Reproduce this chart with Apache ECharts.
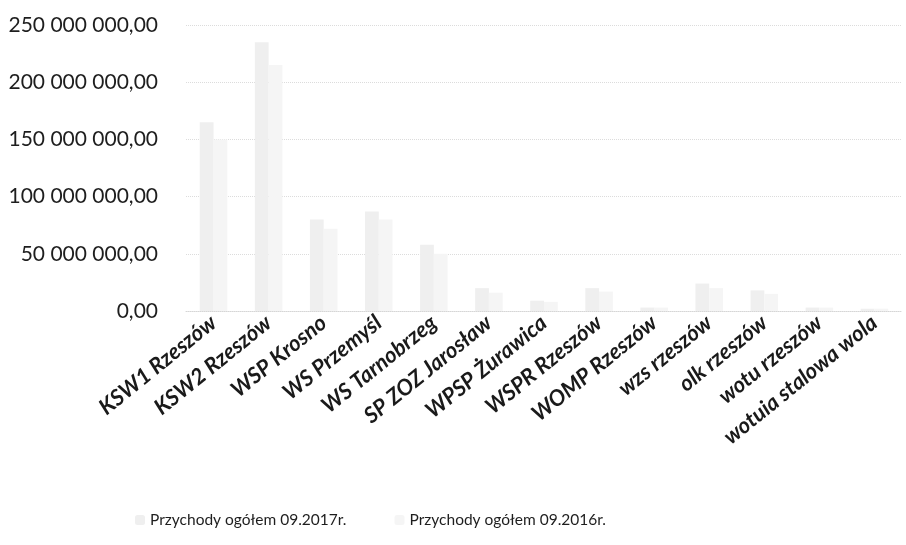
<!DOCTYPE html>
<html>
<head>
<meta charset="utf-8">
<script src="https://cdn.jsdelivr.net/npm/echarts@6/dist/echarts.min.js"></script>
<style>
html,body{margin:0;padding:0;background:#fff;}
#chart{width:906px;height:545px;}
</style>
</head>
<body>
<div id="chart"></div>
<script>
const categories = ["KSW1 Rzeszów","KSW2 Rzeszów","WSP Krosno","WS Przemyśl","WS Tarnobrzeg","SP ZOZ Jarosław","WPSP Żurawica","WSPR Rzeszów","WOMP Rzeszów","wzs rzeszów","olk rzeszów","wotu rzeszów","wotuia stalowa wola"];
const revenue2017 = [165000000, 235000000, 80000000, 87000000, 58000000, 20000000, 9000000, 20000000, 3000000, 24000000, 18000000, 3000000, 2000000];
const revenue2016 = [150000000, 215000000, 72000000, 80000000, 50000000, 16000000, 8000000, 17000000, 3000000, 20000000, 15000000, 3000000, 2000000];
const seriesNames = ["Przychody ogółem 09.2017r.", "Przychody ogółem 09.2016r."];
const yTicks = [0, 50000000, 100000000, 150000000, 200000000, 250000000];

function fmt(v){
  const s = Math.round(v).toString().replace(/\B(?=(\d{3})+(?!\d))/g, " ");
  return s + ",00";
}

const chart = echarts.init(document.getElementById('chart'), null, {renderer:'canvas'});
chart.setOption({
  backgroundColor: '#ffffff',
  animation: false,
  grid: {left: 186, right: 4, top: 25, bottom: 234, containLabel: false},
  legend: {
    top: 507,
    left: 130,
    itemGap: 48,
    itemWidth: 10,
    itemHeight: 10,
    textStyle: {fontFamily: 'Lato', fontSize: 15.5, color: '#1e1e1e'},
    data: seriesNames
  },
  xAxis: {
    type: 'category',
    data: categories,
    axisLine: {show: true, lineStyle: {color: '#d6d6d6', type: 'dotted'}},
    axisTick: {show: false},
    axisLabel: {
      interval: 0,
      rotate: 39,
      margin: 9,
      fontFamily: 'Lato',
      fontSize: 22,
      fontWeight: 'bold',
      fontStyle: 'italic',
      color: '#1a1a1a'
    }
  },
  yAxis: {
    type: 'value',
    min: yTicks[0],
    max: yTicks[yTicks.length - 1],
    interval: yTicks[1] - yTicks[0],
    axisLine: {show: false},
    axisTick: {show: false},
    splitLine: {show: true, lineStyle: {color: '#dcdcdc', type: 'dotted'}},
    axisLabel: {
      margin: 28,
      fontFamily: 'Lato',
      fontSize: 21,
      color: '#1e1e1e',
      formatter: fmt
    }
  },
  series: [
    {name: seriesNames[0], type: 'bar', data: revenue2017, barGap: '0%', barCategoryGap: '50%',
     itemStyle: {color: '#efefef'}},
    {name: seriesNames[1], type: 'bar', data: revenue2016,
     itemStyle: {color: '#f5f5f5'}}
  ]
});
</script>
</body>
</html>
